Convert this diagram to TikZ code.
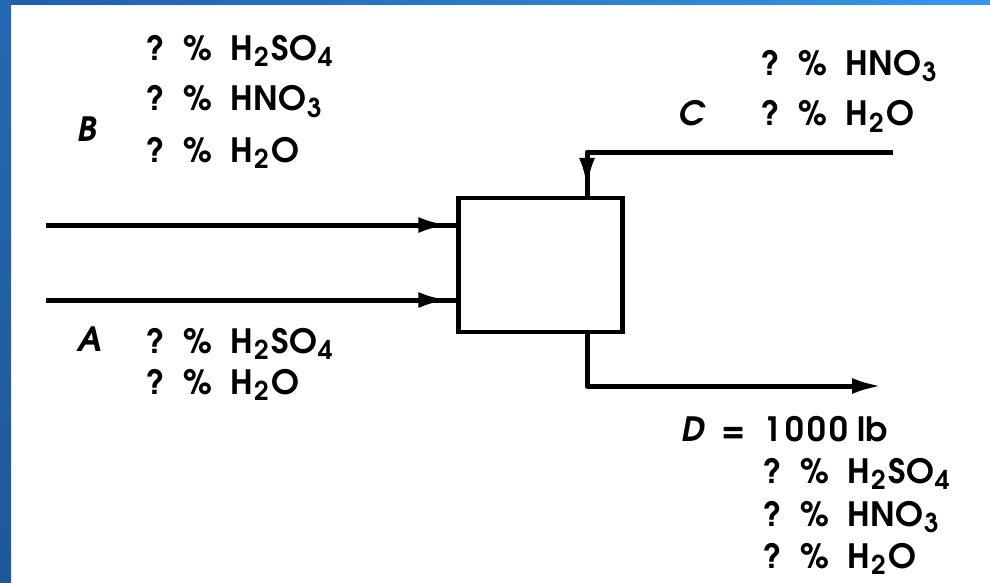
\documentclass[tikz,border=0pt]{standalone}
\usepackage{fontspec}
\setmainfont{texgyreadventor}[Extension=.otf, UprightFont=*-regular, ItalicFont=*-italic, BoldFont=*-bold, BoldItalicFont=*-bolditalic]
\usetikzlibrary{arrows.meta,decorations.markings}
\newcommand{\sbs}[1]{\hspace{0.02em}\raisebox{-6pt}{\fontsize{26}{26}\selectfont #1}\hspace{0.1em}}
\newcommand{\qp}{?\hspace{0.55em}\%\hspace{0.55em}}
\begin{document}
\begin{tikzpicture}[x=1pt,y=-1pt,
  lbl/.style={anchor=base west,inner sep=0pt,font=\fontsize{33.5}{34}\selectfont\bfseries},
  stream/.style={anchor=base west,inner sep=0pt,font=\fontsize{33.5}{34}\selectfont\bfseries\itshape},
  flow/.style={line width=5pt,line join=round},
  midarrow/.style={postaction={decorate},decoration={markings,mark=at position -8pt with {\arrow{Latex[length=30pt,width=16pt]}}}},
  unit/.style={draw,line width=4.5pt,minimum width=164pt,minimum height=134pt,inner sep=0pt}]
\useasboundingbox (0,0) rectangle (990,583);
% frame
\shade[left color={rgb,255:red,30;green,95;blue,170}, right color={rgb,255:red,55;green,150;blue,235}] (0,0) rectangle (990,5);
\shade[top color={rgb,255:red,38;green,104;blue,178}, bottom color={rgb,255:red,30;green,88;blue,150}] (0,0) rectangle (11,583);
% box
\node[unit] (box) at (540.5,265) {};
\coordinate (bstart) at (46,225);
\coordinate (astart) at (46,300);
\coordinate (cstart) at (893,152);
\coordinate (cx) at (587,0);
\coordinate (dend) at (882,386);
\draw[flow,midarrow] (bstart) -- (box.west |- bstart);
\draw[flow,midarrow] (astart) -- (box.west |- astart);
\draw[flow,midarrow] (cstart) -| (box.north -| cx);
\draw[flow,-{Latex[length=30pt,width=16pt]}] (box.south -| cx) |- (dend);
% B
\node[stream] (bl) at (77,142) {B};
\node[lbl] (b1) at (146,61) {\qp H\sbs{2}SO\sbs{4}};
\node[lbl] (b2) at (146,111) {\qp HNO\sbs{3}};
\node[lbl] (b3) at (146,162) {\qp H\sbs{2}O};
% A
\node[stream] (al) at (77,351) {A};
\node[lbl] (a1) at (146,353) {\qp H\sbs{2}SO\sbs{4}};
\node[lbl] (a2) at (146,394) {\qp H\sbs{2}O};
% C
\node[stream] (cl) at (678,126) {C};
\node[lbl] (c1) at (761,76) {\qp HNO\sbs{3}};
\node[lbl] (c2) at (761,126) {\qp H\sbs{2}O};
% D
\node[stream] (dl) at (681,441) {D\upshape\hspace{0.5em}=\hspace{0.55em}{\addfontfeatures{LetterSpace=9}1000} lb};
\node[lbl] (d1) at (763,483) {\qp H\sbs{2}SO\sbs{4}};
\node[lbl] (d2) at (763,526) {\qp HNO\sbs{3}};
\node[lbl] (d3) at (763,568) {\qp H\sbs{2}O};
\end{tikzpicture}
\end{document}
